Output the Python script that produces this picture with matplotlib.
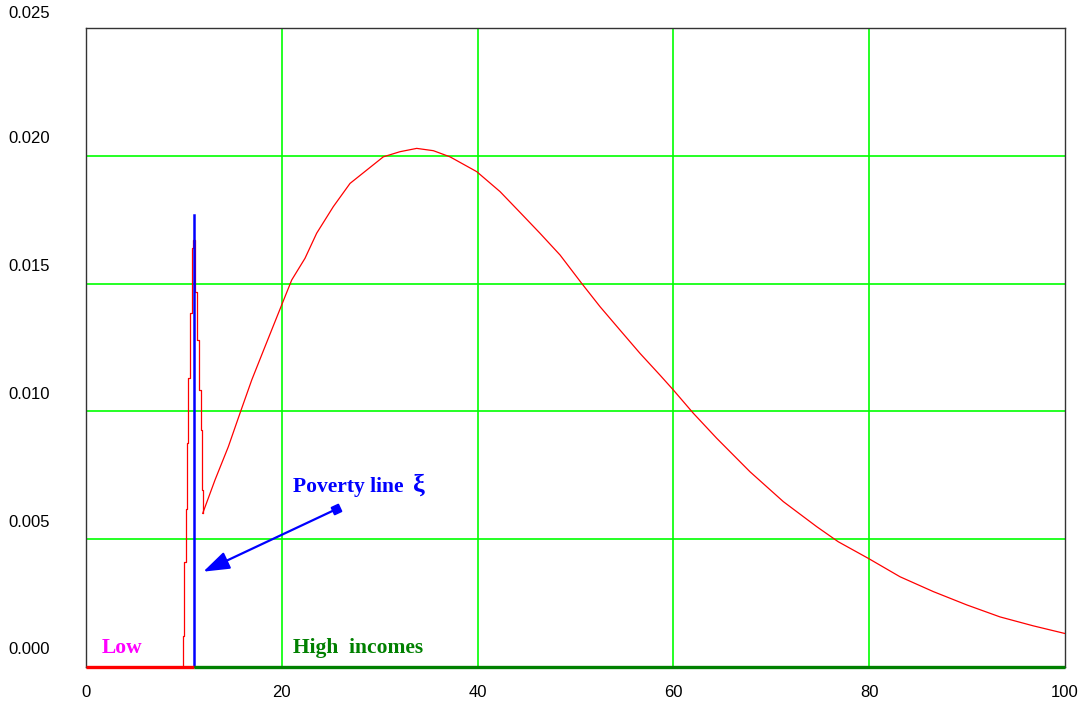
import matplotlib
matplotlib.use('Agg')
import matplotlib.pyplot as plt
import matplotlib.transforms as mtransforms

# poverty line position and height of the marker line
poverty_x = 11.03
poverty_top = 0.0177

# narrow spike just below the poverty line (drawn as steps)
spike_x = [0, 9.88, 10.04, 10.18, 10.29, 10.45, 10.62, 10.78, 10.96, 11.13,
           11.31, 11.54, 11.72, 11.82, 11.92]
spike_y = [0, 0.0012, 0.0041, 0.0062, 0.00875, 0.0113, 0.01384, 0.01638,
           0.01671, 0.01468, 0.01279, 0.01084, 0.00927, 0.00692, 0.00601]

# main income density above the poverty line
curve_x = [11.92, 13.18, 14.54, 15.73, 16.93, 18.28, 19.92, 21.01, 22.37, 23.56,
           25.26, 26.97, 28.67, 30.37, 32.07, 33.78, 35.48, 37.18, 39.91, 42.29,
           44.30, 46.37, 48.42, 50.63, 52.50, 54.55, 56.59, 58.63, 59.99, 62.03,
           64.42, 67.82, 71.23, 74.64, 76.84, 79.91, 83.15, 86.55, 89.96, 93.36,
           96.76, 100.0]
curve_y = [0.00601, 0.00732, 0.00862, 0.00993, 0.01123, 0.01253, 0.01410, 0.01514,
           0.01599, 0.01697, 0.01801, 0.01892, 0.01944, 0.01996, 0.02016, 0.02029,
           0.02020, 0.01996, 0.01938, 0.01860, 0.01780, 0.01697, 0.01612, 0.01501,
           0.01410, 0.01318, 0.01227, 0.01142, 0.01084, 0.00993, 0.00895, 0.00764,
           0.00647, 0.00549, 0.00490, 0.00425, 0.00353, 0.00295, 0.00243, 0.00196,
           0.00161, 0.00131]

x_ticks = [0, 20, 40, 60, 80, 100]
y_ticks = [0.000, 0.005, 0.010, 0.015, 0.020, 0.025]
y_labels = ['0.000', '0.005', '0.010', '0.015', '0.020', '0.025']

# annotation arrow (label point -> poverty line)
arrow_start = (25.54, 0.00617)
arrow_end = (11.98, 0.00373)

fig = plt.figure(figsize=(10.88, 7.02), dpi=100)
ax = fig.add_axes([86 / 1088, 35 / 702, 979 / 1088, 639 / 702])

ax.set_xlim(0, 100)
ax.set_ylim(0, 0.025)

# grid
for gx in x_ticks[1:-1]:
    ax.axvline(gx, color='#00ff00', lw=1.2, zorder=1)
for gy in y_ticks[1:-1]:
    ax.axhline(gy, color='#00ff00', lw=1.2, zorder=1)

# density
ax.step(spike_x, spike_y, where='post', color='#ff0000', lw=0.9, zorder=3)
ax.plot(curve_x, curve_y, color='#ff0000', lw=0.9, zorder=3)

# bottom bands: low incomes red, high incomes green
ax.plot([0, poverty_x], [0, 0], color='#ff0000', lw=2.4, solid_capstyle='butt',
        clip_on=False, zorder=5)
ax.plot([poverty_x, 100], [0, 0], color='#008000', lw=2.4, solid_capstyle='butt',
        clip_on=False, zorder=5)

# poverty line
ax.plot([poverty_x, poverty_x], [0, poverty_top], color='#0000ff', lw=1.8, zorder=4)

# arrow with square at the start
ax.annotate('', xy=arrow_end, xytext=arrow_start,
            arrowprops=dict(arrowstyle='-|>,head_length=1.6,head_width=0.55',
                            color='#0000ff', lw=1.6, shrinkA=0, shrinkB=0),
            zorder=6)
ax.plot([arrow_start[0]], [arrow_start[1]], marker=(4, 0, 70), markersize=8,
        color='#0000ff', zorder=6)

serif = ['Liberation Serif', 'DejaVu Serif']
ax.text(21.17, 0.00685, 'Poverty line', color='#0000ff', fontsize=15.5,
        fontweight='bold', family=serif, va='baseline', ha='left', zorder=7)
ax.text(33.4, 0.00685, 'ξ', color='#0000ff', fontsize=19,
        fontweight='bold', family=serif, va='baseline', ha='left', zorder=7)
ax.text(1.6, 0.00054, 'Low', color='#ff00ff', fontsize=15.5,
        fontweight='bold', family=serif, va='baseline', ha='left', zorder=7)
ax.text(21.17, 0.00054, 'High  incomes', color='#008000', fontsize=15.5,
        fontweight='bold', family=serif, va='baseline', ha='left', zorder=7)

# axes styling
for sp in ax.spines.values():
    sp.set_color('#333333')
    sp.set_linewidth(1.0)

ax.set_xticks(x_ticks)
ax.set_xticklabels([str(t) for t in x_ticks], family='Liberation Sans', fontsize=12)
ax.tick_params(axis='x', length=0, pad=13)
ax.set_yticks(y_ticks)
ax.set_yticklabels([])
ax.tick_params(axis='y', length=0)

# y labels sit above their grid lines, at the figure's left edge
trans = mtransforms.blended_transform_factory(fig.transFigure, ax.transData)
trans = trans + mtransforms.ScaledTranslation(0, 17 / 100, fig.dpi_scale_trans)
for val, lab in zip(y_ticks, y_labels):
    dy = 0 if val < 0.025 else -3 / 100
    t = trans + mtransforms.ScaledTranslation(0, dy, fig.dpi_scale_trans)
    fig.text(8 / 1088, val, lab, transform=t, family='Liberation Sans',
             fontsize=12, va='center', ha='left')

fig.savefig('out.png', dpi=100)
